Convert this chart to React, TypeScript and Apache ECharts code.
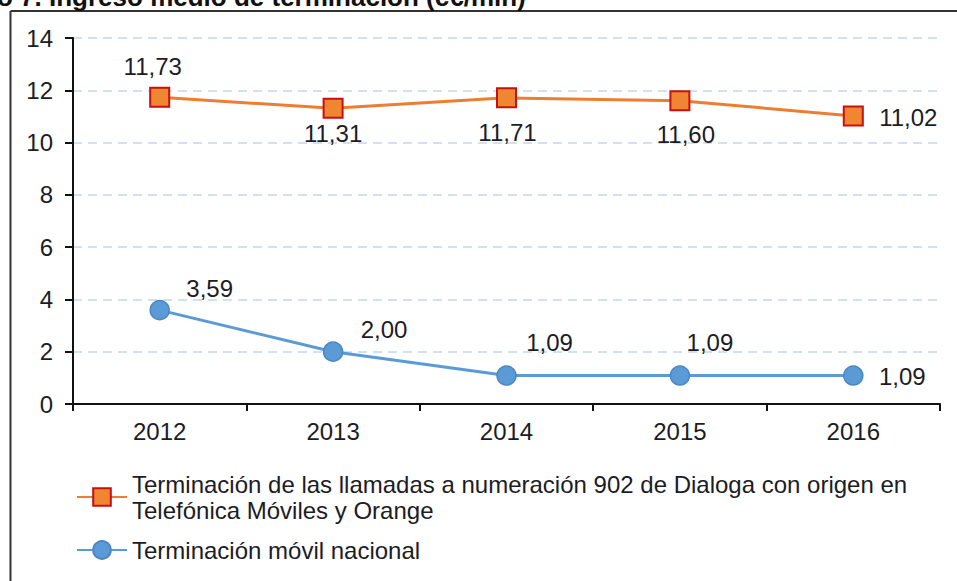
import React, { useEffect, useRef } from "react";
import * as echarts from "echarts";

const categories = ["2012", "2013", "2014", "2015", "2016"];
const terminacion902 = [11.73, 11.31, 11.71, 11.6, 11.02];
const movilNacional = [3.59, 2.0, 1.09, 1.09, 1.09];
const yMin = 0;
const yMax = 14;
const yInterval = 2;

const name902 =
  "Terminación de las llamadas a numeración 902 de Dialoga con origen en\nTelefónica Móviles y Orange";
const nameMovil = "Terminación móvil nacional";
const titleText = "o 7. Ingreso medio de terminación (c€/min)";

// label placement (style only)
const offs902: [number, number][] = [
  [-7, -31],
  [0, 25],
  [1, 35],
  [6, 34],
  [55, 2],
];
const offsMovil: [number, number][] = [
  [50, -22],
  [51, -22],
  [43, -33],
  [30, -33],
  [49, 1],
];

const FONT = "'Liberation Sans', Arial, sans-serif";
const TXT = "#1c1c24";

const fmt = (v: number) => v.toFixed(2).replace(".", ",");

export default function App() {
  const ref = useRef<HTMLDivElement>(null);
  useEffect(() => {
    document.body.style.margin = "0";
    if (!ref.current) return;
    const chart = echarts.init(ref.current, undefined, { renderer: "svg" });
    const labelBase = {
      show: true,
      position: "inside" as const,
      fontFamily: FONT,
      fontSize: 24,
      color: TXT,
      formatter: (p: any) => fmt(p.value),
    };
    chart.setOption({
      animation: false,
      backgroundColor: "#ffffff",
      grid: { left: 73, right: 17, top: 38, bottom: 177 },
      xAxis: {
        type: "category",
        data: categories,
        boundaryGap: true,
        axisLine: { show: true, lineStyle: { color: "#111", width: 2 } },
        axisTick: { show: true, length: 7, lineStyle: { color: "#111", width: 2 } },
        axisLabel: { fontFamily: FONT, fontSize: 24, color: TXT, margin: 15 },
        splitLine: { show: false },
      },
      yAxis: {
        type: "value",
        min: yMin,
        max: yMax,
        interval: yInterval,
        axisLine: { show: true, lineStyle: { color: "#111", width: 2 } },
        axisTick: { show: true, length: 8, lineStyle: { color: "#111", width: 2 } },
        axisLabel: { fontFamily: FONT, fontSize: 24, color: TXT, margin: 20 },
        splitLine: {
          show: true,
          lineStyle: { color: "#c3d8ee", width: 1.5, type: [9, 6] },
        },
      },
      legend: [
        {
          data: [name902],
          orient: "vertical",
          left: 71,
          top: 453,
          itemWidth: 50,
          itemHeight: 22,
          textStyle: {
            fontFamily: FONT,
            fontSize: 24,
            color: TXT,
            lineHeight: 26,
            padding: [26, 0, 0, 0],
          },
        },
        {
          data: [nameMovil],
          orient: "vertical",
          left: 71,
          top: 532,
          itemWidth: 50,
          itemHeight: 22,
          textStyle: { fontFamily: FONT, fontSize: 24, color: TXT, lineHeight: 26 },
        },
      ],
      graphic: [
        {
          type: "line",
          shape: { x1: 10.5, y1: 11, x2: 957, y2: 11 },
          style: { stroke: "#333", lineWidth: 2 },
        },
        {
          type: "line",
          shape: { x1: 10.5, y1: 11, x2: 10.5, y2: 581 },
          style: { stroke: "#333", lineWidth: 2 },
        },
        {
          type: "text",
          x: -3,
          y: -3,
          style: {
            text: titleText,
            fontFamily: FONT,
            fontSize: 26,
            fontWeight: "bold",
            fill: "#111",
            textVerticalAlign: "middle",
            verticalAlign: "middle",
          },
        },
      ],
      series: [
        {
          name: name902,
          type: "line",
          data: terminacion902.map((v, i) => ({
            value: v,
            label: { ...labelBase, offset: offs902[i] },
          })),
          symbol: "rect",
          symbolSize: 19,
          lineStyle: { color: "#ed7d31", width: 3 },
          itemStyle: { color: "#f08532", borderColor: "#c81010", borderWidth: 2 },
          label: labelBase,
          z: 3,
        },
        {
          name: nameMovil,
          type: "line",
          data: movilNacional.map((v, i) => ({
            value: v,
            label: { ...labelBase, offset: offsMovil[i] },
          })),
          symbol: "circle",
          symbolSize: 19,
          lineStyle: { color: "#5b9bd5", width: 3 },
          itemStyle: { color: "#5b9bd5", borderColor: "#4a87c4", borderWidth: 1.5 },
          label: labelBase,
          z: 3,
        },
      ],
    });
    return () => chart.dispose();
  }, []);
  return <div ref={ref} style={{ width: 957, height: 581 }} />;
}
